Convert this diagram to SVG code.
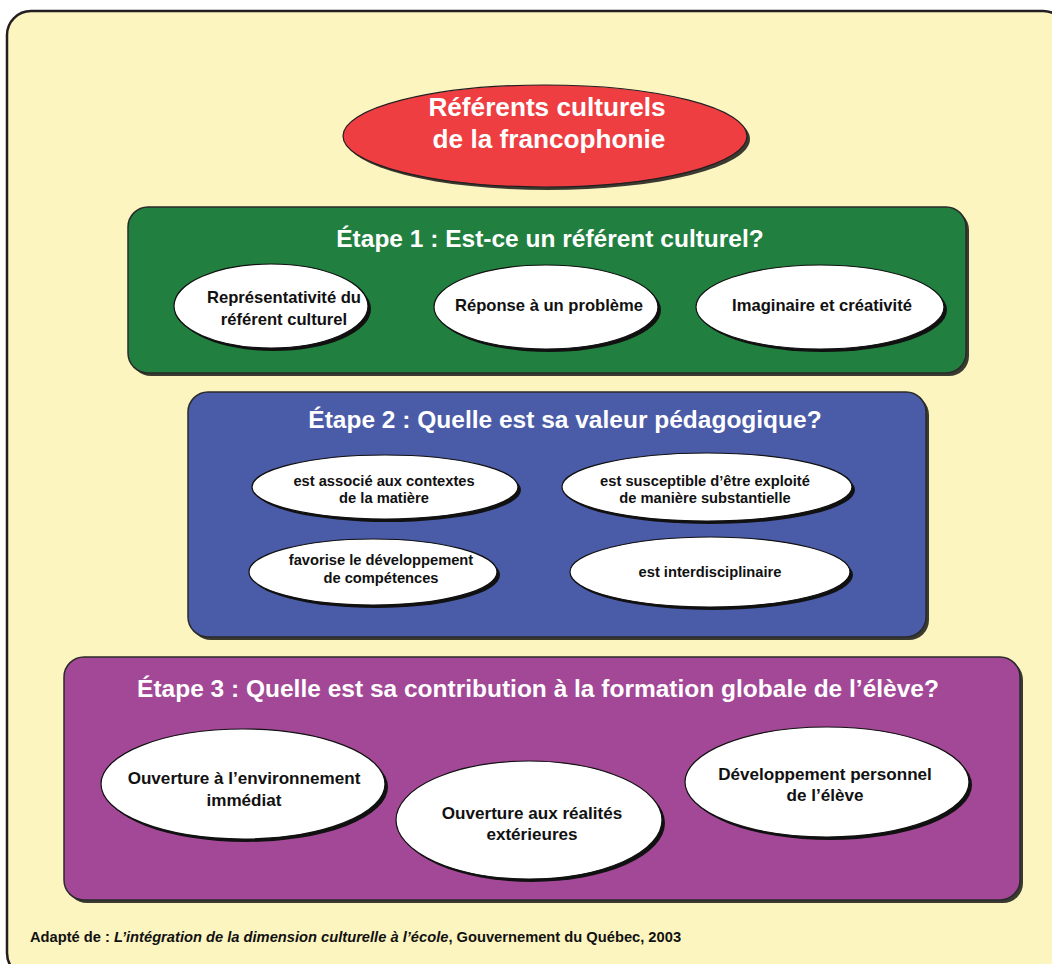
<svg xmlns="http://www.w3.org/2000/svg" width="1052" height="964" viewBox="0 0 1052 964">
<style>
text{font-family:"Liberation Sans",Arial,sans-serif;font-weight:bold;text-anchor:middle}
.wt{fill:#ffffff}
.bt{fill:#111111}
.box{stroke:#2a2a2a;stroke-width:1.5}
.sh{fill:#3a3a30}
.el{fill:#ffffff;stroke:#111111;stroke-width:1.2}
.esh{fill:#111111}
.h{font-size:24.5px}
.t1{font-size:16.6px}
.t2{font-size:14.7px}
.t3{font-size:17.1px}
</style>
<rect x="7" y="11" width="1060" height="966" rx="24" fill="#FDF5C0" stroke="#231F20" stroke-width="2.5"/>
<g id="title">
<ellipse cx="548" cy="139" rx="202" ry="51" class="sh"/>
<ellipse cx="545" cy="136" rx="202" ry="51" fill="#EE3E42" stroke="#231F20" stroke-width="1.2"/>
<text x="547" y="116" font-size="26.2" class="wt">Référents culturels</text>
<text x="549" y="148" font-size="26.2" class="wt">de la francophonie</text>
</g>
<g id="etape1">
<rect x="131" y="210" width="838" height="166" rx="20" class="sh"/>
<rect x="128" y="207" width="838" height="166" rx="20" fill="#21803F" class="box"/>
<text x="550" y="247" class="wt h">Étape 1 : Est-ce un référent culturel?</text>
</g>
<g id="e1a">
<ellipse cx="274" cy="309" rx="97" ry="42" class="esh"/>
<ellipse cx="271" cy="306" rx="97" ry="42" class="el"/>
<text x="284" y="303" class="bt t1">Représentativité du</text>
<text x="284" y="325" class="bt t1">référent culturel</text>
</g>
<g id="e1b">
<ellipse cx="549" cy="310" rx="112" ry="42" class="esh"/>
<ellipse cx="546" cy="307" rx="112" ry="42" class="el"/>
<text x="549" y="311" class="bt t1">Réponse à un problème</text>
</g>
<g id="e1c">
<ellipse cx="823" cy="310" rx="124" ry="42" class="esh"/>
<ellipse cx="820" cy="307" rx="124" ry="42" class="el"/>
<text x="822" y="311" class="bt t1">Imaginaire et créativité</text>
</g>
<g id="etape2">
<rect x="191" y="395" width="738" height="245" rx="20" class="sh"/>
<rect x="188" y="392" width="738" height="245" rx="20" fill="#4A5BA8" class="box"/>
<text x="565" y="428" class="wt h">Étape 2 : Quelle est sa valeur pédagogique?</text>
</g>
<g id="e2a">
<ellipse cx="388" cy="490" rx="133" ry="32" class="esh"/>
<ellipse cx="385" cy="487" rx="133" ry="32" class="el"/>
<text x="384" y="486" class="bt t2">est associé aux contextes</text>
<text x="384" y="503" class="bt t2">de la matière</text>
</g>
<g id="e2b">
<ellipse cx="710" cy="490" rx="145" ry="34" class="esh"/>
<ellipse cx="707" cy="487" rx="145" ry="34" class="el"/>
<text x="705" y="486" class="bt t2">est susceptible d’être exploité</text>
<text x="705" y="503" class="bt t2">de manière substantielle</text>
</g>
<g id="e2c">
<ellipse cx="376" cy="575" rx="124" ry="33" class="esh"/>
<ellipse cx="373" cy="572" rx="124" ry="33" class="el"/>
<text x="381" y="565" class="bt t2">favorise le développement</text>
<text x="381" y="583" class="bt t2">de compétences</text>
</g>
<g id="e2d">
<ellipse cx="713" cy="575" rx="140" ry="35" class="esh"/>
<ellipse cx="710" cy="572" rx="140" ry="35" class="el"/>
<text x="710" y="577" class="bt t2">est interdisciplinaire</text>
</g>
<g id="etape3">
<rect x="67" y="660" width="956" height="243" rx="20" class="sh"/>
<rect x="64" y="657" width="956" height="243" rx="20" fill="#A24897" class="box"/>
<text x="538" y="697" class="wt h">Étape 3 : Quelle est sa contribution à la formation globale de l’élève?</text>
</g>
<g id="e3a">
<ellipse cx="246" cy="787" rx="142" ry="55" class="esh"/>
<ellipse cx="243" cy="784" rx="142" ry="55" class="el"/>
<text x="244" y="784" class="bt t3">Ouverture à l’environnement</text>
<text x="244" y="806" class="bt t3">immédiat</text>
</g>
<g id="e3b">
<ellipse cx="532" cy="823" rx="133" ry="59" class="esh"/>
<ellipse cx="529" cy="820" rx="133" ry="59" class="el"/>
<text x="532" y="819" class="bt t3">Ouverture aux réalités</text>
<text x="532" y="840" class="bt t3">extérieures</text>
</g>
<g id="e3c">
<ellipse cx="830" cy="785" rx="142" ry="55" class="esh"/>
<ellipse cx="827" cy="782" rx="142" ry="55" class="el"/>
<text x="825" y="780" class="bt t3">Développement personnel</text>
<text x="825" y="801" class="bt t3">de l’élève</text>
</g>
<g id="connectors"/>
<text x="30" y="942" font-size="14.7" class="bt" style="text-anchor:start">Adapté de : <tspan font-style="italic">L’intégration de la dimension culturelle à l’école</tspan>, Gouvernement du Québec, 2003</text>
</svg>
